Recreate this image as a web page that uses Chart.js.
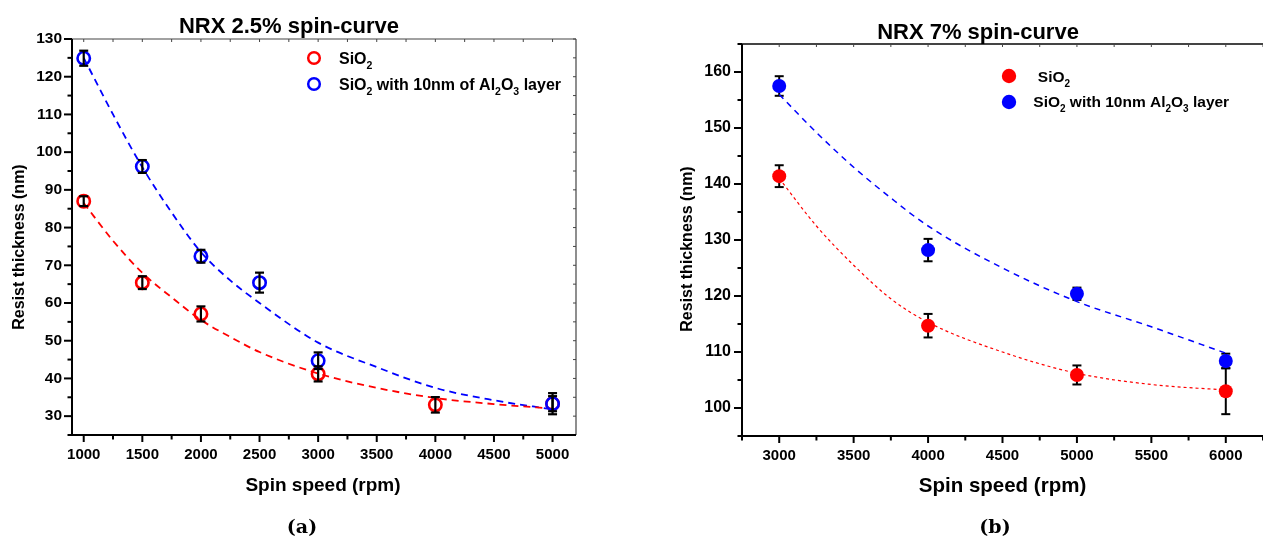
<!DOCTYPE html>
<html>
<head>
<meta charset="utf-8">
<script src="https://cdn.jsdelivr.net/npm/chart.js@4.4.1/dist/chart.umd.min.js"></script>
<style>
  html, body { margin: 0; padding: 0; background: #fff; }
  #wrap { position: relative; width: 1263px; height: 537px; overflow: hidden; background: #fff; }
  canvas { position: absolute; top: 0; }
</style>
</head>
<body>
<div id="wrap">
  <canvas id="ca" width="630" height="537" style="left:0px"></canvas>
  <canvas id="cb" width="640" height="537" style="left:630px"></canvas>
</div>
<script>
// ---------------- DATA: panel (a) NRX 2.5% ----------------
const aTitle = 'NRX 2.5% spin-curve';
const aRedLabel = 'SiO_2';
const aBlueLabel = 'SiO_2 with 10nm of Al_2O_3 layer';
const aXRed = [1000, 1500, 2000, 3000, 4000, 5000];
const aRed = [87.0, 65.4, 57.1, 41.2, 33.0, 33.3];
const aRedErr = [1.3, 1.7, 2.0, 2.0, 2.05, 2.0];
const aXBlue = [1000, 1500, 2000, 2500, 3000, 5000];
const aBlue = [124.9, 96.2, 72.4, 65.4, 44.7, 33.3];
const aBlueErr = [2.0, 1.7, 1.7, 2.65, 2.2, 2.8];
const aFitX = [1000, 1250, 1500, 1750, 2000, 2250, 2500, 3000, 3500, 4000, 4500, 5000];
const aRedFit = [86.5, 76.5, 68.0, 61.5, 55.5, 51.0, 47.0, 41.3, 37.5, 34.8, 33.2, 32.0];
const aBlueFit = [125.0, 110.0, 96.0, 84.0, 73.5, 66.0, 60.0, 49.5, 43.0, 37.5, 34.2, 31.8];
const aXTicks = [1000, 1500, 2000, 2500, 3000, 3500, 4000, 4500, 5000];
const aYTicks = [30, 40, 50, 60, 70, 80, 90, 100, 110, 120, 130];

// ---------------- DATA: panel (b) NRX 7% ----------------
const bTitle = 'NRX 7% spin-curve';
const bRedLabel = ' SiO_2';
const bBlueLabel = 'SiO_2 with 10nm Al_2O_3 layer';
const bX = [3000, 4000, 5000, 6000];
const bRed = [141.4, 114.7, 105.9, 103.0];
const bRedErr = [1.95, 2.1, 1.7, 4.1];
const bBlue = [157.5, 128.2, 120.4, 108.4];
const bBlueErr = [1.75, 2.0, 1.1, 1.3];
const bFitX = [3000, 3250, 3500, 3750, 4000, 4500, 5000, 5500, 6000];
const bRedFit = [141.0, 132.5, 125.5, 119.5, 115.3, 110.0, 106.2, 104.2, 103.2];
const bBlueFit = [156.0, 149.2, 143.0, 137.5, 132.5, 125.0, 119.0, 114.5, 109.8];
const bXTicks = [3000, 3500, 4000, 4500, 5000, 5500, 6000];
const bYTicks = [100, 110, 120, 130, 140, 150, 160];

// ---------------- helpers ----------------
const SANS = '"Liberation Sans", Arial, sans-serif';
const RED = '#ff0000', BLUE = '#0000ff';
const pts = (xs, ys) => xs.map((x, i) => ({ x: x, y: ys[i] }));
const minorsOf = (ticks, lo, hi) => {
  const step = ticks[1] - ticks[0];
  const out = [];
  for (let v = ticks[0] - step / 2; v <= hi + 1e-9; v += step) if (v >= lo - 1e-9) out.push(v);
  return out;
};

function richText(ctx, x, y, str, size, subSize, color) {
  const parts = str.split(/_(\d)/);
  let cx = x;
  ctx.fillStyle = color || '#000';
  ctx.textAlign = 'left';
  ctx.textBaseline = 'alphabetic';
  parts.forEach((t, i) => {
    if (!t) return;
    const sub = i % 2 === 1;
    ctx.font = 'bold ' + (sub ? subSize : size) + 'px ' + SANS;
    ctx.fillText(t, cx, sub ? y + size * 0.32 : y);
    cx += ctx.measureText(t).width;
  });
}

function line(ctx, x1, y1, x2, y2) { ctx.beginPath(); ctx.moveTo(x1, y1); ctx.lineTo(x2, y2); ctx.stroke(); }

const CFG = {};

function drawErr(chart, c) {
  const { ctx, scales: { x, y } } = chart;
  ctx.save();
  ctx.strokeStyle = '#000';
  ctx.lineWidth = c.errWidth;
  chart.data.datasets.forEach((ds) => {
    if (!ds.errs) return;
    ds.data.forEach((p, j) => {
      const e = ds.errs[j];
      const px = x.getPixelForValue(p.x);
      const t = y.getPixelForValue(p.y + e), b = y.getPixelForValue(p.y - e);
      line(ctx, px, t, px, b);
      line(ctx, px - c.cap, t, px + c.cap, t);
      line(ctx, px - c.cap, b, px + c.cap, b);
    });
  });
  ctx.restore();
}

function drawAxes(chart, c) {
  const { ctx, chartArea: a, scales: { x, y } } = chart;
  ctx.save();
  ctx.lineCap = 'butt';
  ctx.strokeStyle = c.frameColor;
  ctx.lineWidth = c.frameWidth;
  line(ctx, a.left, a.top, a.right, a.top);
  if (c.rightFrame) line(ctx, a.right, a.top, a.right, a.bottom);
  const xAll = c.xTicks.concat(c.xMinor), yAll = c.yTicks.concat(c.yMinor);
  ctx.lineWidth = 1;
  xAll.forEach(v => { const p = x.getPixelForValue(v); line(ctx, p, a.top, p, a.top + c.innerTick); });
  if (c.rightFrame) yAll.forEach(v => { const p = y.getPixelForValue(v); line(ctx, a.right, p, a.right - c.innerTick, p); });
  ctx.strokeStyle = '#000';
  ctx.lineWidth = 2;
  line(ctx, a.left, a.top, a.left, a.bottom + 1);
  line(ctx, a.left - 1, a.bottom, a.right, a.bottom);
  c.yTicks.forEach(v => { const p = y.getPixelForValue(v); line(ctx, a.left, p, a.left - 8, p); });
  c.yMinor.forEach(v => { const p = y.getPixelForValue(v); line(ctx, a.left, p, a.left - 4.5, p); });
  c.xTicks.forEach(v => { const p = x.getPixelForValue(v); line(ctx, p, a.bottom, p, a.bottom + 7); });
  c.xMinor.forEach(v => { const p = x.getPixelForValue(v); line(ctx, p, a.bottom, p, a.bottom + 4.5); });
  ctx.restore();
}

function drawTexts(chart, c) {
  const ctx = chart.ctx;
  ctx.save();
  ctx.fillStyle = '#000';
  ctx.font = 'bold 22px ' + SANS;
  ctx.textAlign = 'center'; ctx.textBaseline = 'alphabetic';
  ctx.fillText(c.title, c.titleX, c.titleY);
  ctx.font = 'bold ' + c.xTitleSize + 'px ' + SANS;
  ctx.fillText('Spin speed (rpm)', c.xTitleX, c.xTitleY);
  ctx.save();
  ctx.translate(c.yTitleX, c.yTitleY);
  ctx.rotate(-Math.PI / 2);
  ctx.font = 'bold 16px ' + SANS;
  ctx.fillText('Resist thickness (nm)', 0, 0);
  ctx.restore();
  ctx.font = 'bold 19px "DejaVu Serif", "Liberation Serif", serif';
  ctx.fillText(c.caption, c.capX, c.capY);
  c.legend.forEach(it => {
    ctx.beginPath();
    ctx.arc(c.legMarkX, it.y, c.legR, 0, Math.PI * 2);
    if (c.filled) { ctx.fillStyle = it.color; ctx.fill(); }
    else { ctx.strokeStyle = it.color; ctx.lineWidth = 2.5; ctx.stroke(); }
    richText(ctx, it.tx, it.ty, it.label, c.legSize, c.legSub, '#000');
  });
  ctx.restore();
}

const decor = {
  id: 'decor',
  beforeDatasetsDraw(chart) { const c = CFG[chart.canvas.id]; if (!c.barsOnTop) drawErr(chart, c); },
  afterDatasetsDraw(chart) {
    const c = CFG[chart.canvas.id];
    if (c.barsOnTop) drawErr(chart, c);
    drawAxes(chart, c);
    drawTexts(chart, c);
  }
};

function makeChart(id, c, datasets) {
  CFG[id] = c;
  const canvas = document.getElementById(id);
  const tickFont = (s) => ({ family: SANS, size: s, weight: 'bold' });
  return new Chart(canvas, {
    type: 'scatter',
    data: { datasets: datasets },
    plugins: [decor],
    options: {
      responsive: false,
      animation: false,
      events: [],
      layout: { padding: { left: 0, top: c.area.top, right: c.canvasW - c.area.right, bottom: 0 } },
      plugins: { legend: { display: false }, tooltip: { enabled: false }, title: { display: false } },
      scales: {
        x: {
          type: 'linear', min: c.xMin, max: c.xMax,
          grid: { display: false, drawTicks: false }, border: { display: false },
          ticks: { color: '#000', font: tickFont(c.xTickSize), padding: c.xPad, autoSkip: false, maxRotation: 0, callback: v => String(v) },
          afterBuildTicks: s => { s.ticks = c.xTicks.map(v => ({ value: v })); },
          afterFit: s => { s.height = 537 - c.area.bottom; }
        },
        y: {
          type: 'linear', min: c.yMin, max: c.yMax,
          grid: { display: false, drawTicks: false }, border: { display: false },
          ticks: { color: '#000', font: tickFont(c.yTickSize), padding: c.yPad, autoSkip: false, callback: v => String(v) },
          afterBuildTicks: s => { s.ticks = c.yTicks.map(v => ({ value: v })); },
          afterFit: s => { s.width = c.area.left; }
        }
      }
    }
  });
}

function fitDs(xs, ys, color, dash, w) {
  return { type: 'line', data: pts(xs, ys), borderColor: color, borderWidth: w, borderDash: dash,
    pointRadius: 0, fill: false, cubicInterpolationMode: 'monotone', order: 3 };
}
function ptDs(xs, ys, errs, color, filled, r, order) {
  return { type: 'scatter', data: pts(xs, ys), errs: errs, pointRadius: r, pointStyle: 'circle',
    borderColor: color, borderWidth: filled ? 0 : 2.6,
    backgroundColor: filled ? color : 'rgba(255,255,255,0)', order: order };
}

// ---------------- panel (a) ----------------
makeChart('ca', {
  canvasW: 630, area: { left: 72, top: 39, right: 576, bottom: 435 },
  xMin: 900, xMax: 5200, yMin: 25, yMax: 130,
  xTicks: aXTicks, yTicks: aYTicks,
  xMinor: minorsOf(aXTicks, 900, 5200), yMinor: minorsOf(aYTicks, 25, 130),
  xTickSize: 15, yTickSize: 15.5, xPad: 11, yPad: 10,
  frameColor: '#444', frameWidth: 1.2, rightFrame: true, innerTick: 3,
  errWidth: 2.2, cap: 4.5, barsOnTop: true,
  title: aTitle, titleX: 289, titleY: 33,
  xTitleSize: 19, xTitleX: 323, xTitleY: 491,
  yTitleX: 23.5, yTitleY: 247,
  caption: '(a)', capX: 302, capY: 533,
  filled: false, legMarkX: 314, legR: 5.8, legSize: 16, legSub: 10.5,
  legend: [
    { y: 58, color: RED, label: aRedLabel, tx: 339, ty: 64.3 },
    { y: 84, color: BLUE, label: aBlueLabel, tx: 339, ty: 89.5 }
  ]
}, [
  ptDs(aXRed, aRed, aRedErr, RED, false, 6.2, 2),
  ptDs(aXBlue, aBlue, aBlueErr, BLUE, false, 6.2, 1),
  fitDs(aFitX, aRedFit, RED, [7, 5], 1.8),
  fitDs(aFitX, aBlueFit, BLUE, [7, 5], 1.8)
]);

// ---------------- panel (b) ----------------
makeChart('cb', {
  canvasW: 640, area: { left: 112, top: 44, right: 634, bottom: 436 },
  xMin: 2750, xMax: 6250, yMin: 95, yMax: 165,
  xTicks: bXTicks, yTicks: bYTicks,
  xMinor: minorsOf(bXTicks, 2750, 6250), yMinor: minorsOf(bYTicks, 95, 165),
  xTickSize: 15, yTickSize: 16, xPad: 11, yPad: 11,
  frameColor: '#444', frameWidth: 2, rightFrame: false, innerTick: 3,
  errWidth: 2, cap: 4.5, barsOnTop: false,
  title: bTitle, titleX: 348, titleY: 39.3,
  xTitleSize: 20.5, xTitleX: 372.5, xTitleY: 492,
  yTitleX: 61.5, yTitleY: 249,
  caption: '(b)', capX: 365, capY: 533,
  filled: true, legMarkX: 379, legR: 7.2, legSize: 15.5, legSub: 10,
  legend: [
    { y: 76, color: RED, label: bRedLabel, tx: 403.5, ty: 82.3 },
    { y: 102, color: BLUE, label: bBlueLabel, tx: 403.3, ty: 107.3 }
  ]
}, [
  ptDs(bX, bRed, bRedErr, RED, true, 7, 2),
  ptDs(bX, bBlue, bBlueErr, BLUE, true, 7, 1),
  fitDs(bFitX, bRedFit, RED, [3, 3], 1.2),
  fitDs(bFitX, bBlueFit, BLUE, [6, 5], 1.5)
]);
</script>
</body>
</html>
